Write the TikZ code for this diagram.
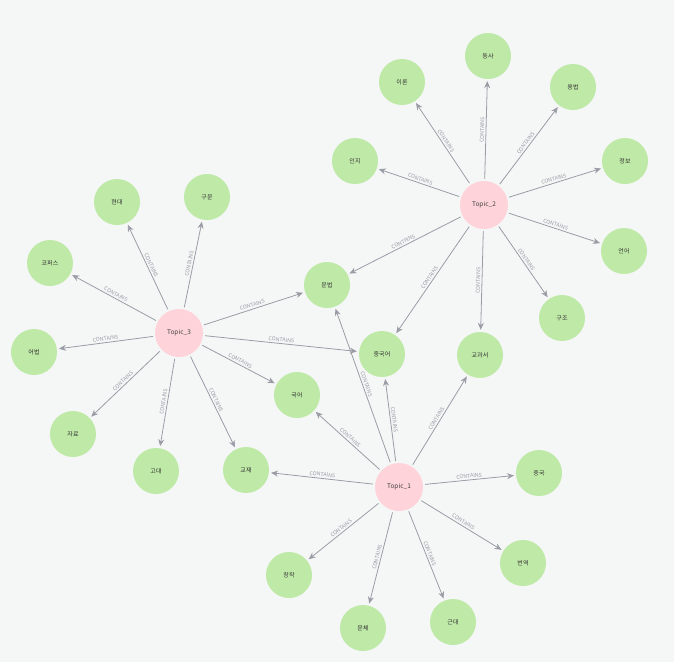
\documentclass[tikz,border=0pt]{standalone}
\usepackage{fontspec}
\newfontfamily\kr{Noto Sans CJK KR}
\usetikzlibrary{arrows.meta}
\definecolor{bgcol}{HTML}{F5F7F7}
\definecolor{wordcol}{HTML}{BFE9A7}
\definecolor{topiccol}{HTML}{FFD3DA}
\definecolor{linkcol}{HTML}{9A9CA6}
\tikzset{
  word/.style={circle, fill=wordcol, minimum size=46pt, inner sep=0pt, font=\kr\fontsize{6}{6}\selectfont, text=black!80},
  topic/.style={circle, fill=topiccol, minimum size=48pt, inner sep=0pt, font=\kr\fontsize{6.5}{6.5}\selectfont, text=black!75},
  link/.style={-{Stealth[length=7pt,width=6pt]}, linkcol, line width=0.8pt, shorten >=2pt, shorten <=2pt},
  lbl/.style={sloped, midway, above=1pt, font=\kr\fontsize{5.3}{5.3}\selectfont, text=linkcol, inner sep=0.5pt}
}
\begin{document}
\begin{tikzpicture}[x=1pt,y=-1pt]
        % Background
        \fill[bgcol] (0,0) rectangle (674,662);
        \useasboundingbox (0,0) rectangle (674,662);

        % Topic nodes
        \node[topic] (t1) at (399,487) {Topic\_1};
        \node[topic] (t2) at (484,205) {Topic\_2};
        \node[topic] (t3) at (179,333) {Topic\_3};

        % Words around Topic_2
        \node[word] (iron) at (402,82) {이론};
        \node[word] (dongsa) at (488,56) {동사};
        \node[word] (yongbeop) at (573,87) {용법};
        \node[word] (inji) at (355,161) {인지};
        \node[word] (jeongbo) at (625,161) {정보};
        \node[word] (eoneo) at (624,251) {언어};
        \node[word] (gujo) at (562,318) {구조};

        % Shared words
        \node[word] (munbeop) at (327,285) {문법};
        \node[word] (junggugeo) at (382,354) {중국어};
        \node[word] (gyogwaseo) at (480,355) {교과서};
        \node[word] (gugeo) at (297,395) {국어};
        \node[word] (gyojae) at (246,470) {교재};

        % Words around Topic_3
        \node[word] (hyeondae) at (117,202) {현대};
        \node[word] (gumun) at (207,197) {구문};
        \node[word] (corpus) at (50,263) {코퍼스};
        \node[word] (eobeop) at (34,352) {어법};
        \node[word] (jaryo) at (73,434) {자료};
        \node[word] (godae) at (156,471) {고대};

        % Words around Topic_1
        \node[word] (jungguk) at (539,473) {중국};
        \node[word] (beonyeok) at (523,563) {번역};
        \node[word] (geundae) at (453,622) {근대};
        \node[word] (munche) at (363,628) {문체};
        \node[word] (changjak) at (289,575) {창작};

        % Links
        \foreach \w in {iron,dongsa,yongbeop,inji,jeongbo,eoneo,gujo,munbeop,junggugeo,gyogwaseo}
          \draw[link] (t2) -- node[lbl] {CONTAINS} (\w);
        \foreach \w in {hyeondae,gumun,corpus,eobeop,jaryo,godae,gyojae,gugeo,munbeop,junggugeo}
          \draw[link] (t3) -- node[lbl] {CONTAINS} (\w);
        \foreach \w in {gyojae,gugeo,munbeop,junggugeo,gyogwaseo,jungguk,beonyeok,geundae,munche,changjak}
          \draw[link] (t1) -- node[lbl] {CONTAINS} (\w);
\end{tikzpicture}
\end{document}
